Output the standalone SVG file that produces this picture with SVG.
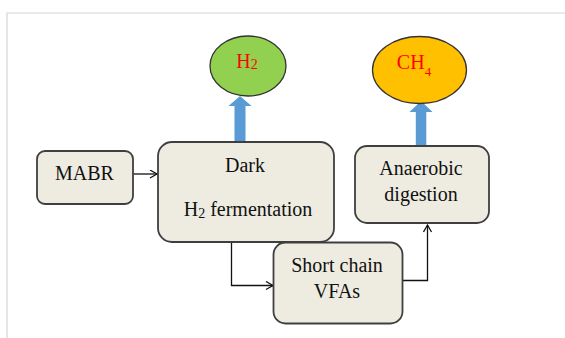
<svg xmlns="http://www.w3.org/2000/svg" width="565" height="338" viewBox="0 0 565 338">
  <style>
    .box { fill: #EEECE1; stroke: #3F3F3F; stroke-width: 1.8; }
    .lbl { font-family: "Liberation Serif", "Times New Roman", serif; font-size: 20px; fill: #111; text-anchor: middle; }
    .gas { font-family: "Liberation Serif", "Times New Roman", serif; font-size: 20px; fill: #FF0000; text-anchor: middle; }
    .flow { fill: none; stroke: #111; stroke-width: 1.3; }
    .up { fill: #5B9BD5; }
  </style>
  <defs>
    <marker id="open" markerUnits="userSpaceOnUse" markerWidth="10" markerHeight="10" refX="8" refY="4.5" orient="auto">
      <path d="M1,0.5 L8,4.5 L1,8.5" fill="none" stroke="#111" stroke-width="1.3"/>
    </marker>
  </defs>

  <!-- page frame -->
  <path d="M7,338 L7,13 L565,13" fill="none" stroke="#D6D6D6" stroke-width="1.2"/>

  <!-- connectors -->
  <g id="connectors">
    <path class="flow" d="M133,174 L157,174" marker-end="url(#open)"/>
    <path class="flow" d="M231.5,242 L231.5,285.5 L273,285.5" marker-end="url(#open)"/>
    <path class="flow" d="M402,280.5 L427.5,280.5 L427.5,225" marker-end="url(#open)"/>
    <polygon class="up" points="234.5,141.5 234.5,106 228.5,106 240,96 251.5,106 245.5,106 245.5,141.5"/>
    <polygon class="up" points="415.8,146 415.8,112 409.5,112 421,101 432.5,112 426.3,112 426.3,146"/>
  </g>

  <g id="h2">
    <ellipse cx="248" cy="66" rx="38" ry="30" fill="#92D050" stroke="#333" stroke-width="1.3"/>
    <text class="gas" x="247" y="67.5">H<tspan font-size="14" dy="1">2</tspan></text>
  </g>

  <g id="ch4">
    <ellipse cx="419.5" cy="70" rx="47" ry="33.5" fill="#FFC000" stroke="#333" stroke-width="1.3"/>
    <text class="gas" x="414" y="69">CH<tspan font-size="13" dy="7">4</tspan></text>
  </g>

  <g id="mabr">
    <rect class="box" x="37" y="151" width="96" height="53" rx="8"/>
    <text class="lbl" x="84.5" y="180">MABR</text>
  </g>

  <g id="dark-fermentation">
    <rect class="box" x="158" y="142" width="176" height="100" rx="14"/>
    <text class="lbl" x="245" y="172">Dark</text>
    <text class="lbl" x="248" y="216">H<tspan font-size="14" dy="2">2</tspan><tspan dy="-2"> fermentation</tspan></text>
  </g>

  <g id="anaerobic-digestion">
    <rect class="box" x="355" y="146" width="134" height="77" rx="12"/>
    <text class="lbl" x="421" y="175">Anaerobic</text>
    <text class="lbl" x="421" y="201">digestion</text>
  </g>

  <g id="short-chain-vfas">
    <rect class="box" x="273.5" y="242.5" width="129" height="81" rx="12"/>
    <text class="lbl" x="337" y="271.5">Short chain</text>
    <text class="lbl" x="337" y="297.5">VFAs</text>
  </g>
</svg>
